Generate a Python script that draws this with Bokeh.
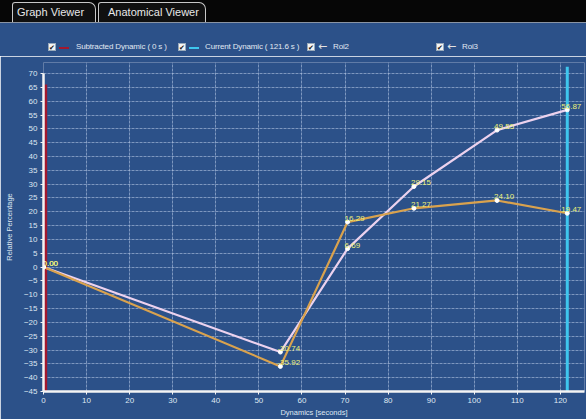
from bokeh.plotting import figure
from bokeh.models import Range1d, FixedTicker, Div, ColumnDataSource
from bokeh.layouts import column
from bokeh.core.properties import value
from bokeh.embed import file_html
from bokeh.resources import INLINE

# ---- data ----
times = [0, 55, 70.6, 86, 105.3, 121.6]
roi2 = [0.00, -35.92, 16.29, 21.27, 24.10, 19.47]
roi3 = [0.00, -30.74, 6.69, 29.15, 49.55, 56.87]
subtracted_t = 0.5
current_t = 121.6
x_ticks = [0, 10, 20, 30, 40, 50, 60, 70, 80, 90, 100, 110, 120]
y_ticks = [-45, -40, -35, -30, -25, -20, -15, -10, -5, 0, 5, 10, 15, 20, 25, 30,
           35, 40, 45, 50, 55, 60, 65, 70]
legend_names = ["Subtracted Dynamic ( 0 s )", "Current Dynamic ( 121.6 s )", "Roi2", "Roi3"]
tab_names = ["Graph Viewer", "Anatomical Viewer"]

BLUE = "#2c5189"
FONT = "Liberation Sans"
W = 586
HEAD_H = 56
FIG_H = 363

# ---- header (tabs + legend) ----
def checkbox(left):
    return (f'<div style="position:absolute;left:{left}px;top:43px;width:8px;height:8px;'
            f'background:#f4f4f4;border:1px solid #9ab;color:#111;font-size:7px;line-height:8px;'
            f'text-align:center;font-family:\'DejaVu Sans\'">&#10004;</div>')

def legtext(left, txt):
    return (f'<div style="position:absolute;left:{left}px;top:42px;color:#e0e8f2;font-size:8px;'
            f'font-family:\'{FONT}\';white-space:nowrap;letter-spacing:-0.15px;line-height:10px">{txt}</div>')

def legline(left, color, w=10):
    return (f'<div style="position:absolute;left:{left}px;top:47px;width:{w}px;height:2px;'
            f'background:{color}"></div>')

def arrow(left):
    return (f'<div style="position:absolute;left:{left}px;top:40px;color:#e2e2e2;font-size:11px;'
            f'font-family:\'DejaVu Sans\';line-height:14px">&#8592;</div>')

def tab(left, width, txt, txt_left):
    return (f'<div style="position:absolute;left:{left}px;top:2px;width:{width}px;height:20px;'
            f'background:#101010;border:1px solid #c8c8c8;border-bottom:none;'
            f'border-radius:3px 7px 0 0"></div>'
            f'<div style="position:absolute;left:{txt_left}px;top:5px;color:#e8e8e8;font-size:11px;'
            f'font-family:\'{FONT}\';white-space:nowrap;line-height:14px">{txt}</div>')

html = (
    f'<div style="position:relative;width:{W}px;height:{HEAD_H}px;background:{BLUE};overflow:hidden">'
    f'<div style="position:absolute;left:0;top:0;width:{W}px;height:22px;background:#060606"></div>'
    f'<div style="position:absolute;left:0;top:22px;width:{W}px;height:1px;background:#8a94a4"></div>'
    + tab(12, 84, tab_names[0], 17)
    + tab(98, 108, tab_names[1], 108)
    + checkbox(48) + legline(59, "#a3182e") + legtext(76, legend_names[0])
    + checkbox(178) + legline(189, "#3ec6ee") + legtext(205, legend_names[1])
    + checkbox(307) + arrow(318) + legtext(333, legend_names[2])
    + checkbox(436) + arrow(447) + legtext(462, legend_names[3])
    + '</div>'
)
header = Div(text=html, width=W, height=HEAD_H, margin=0)

# ---- figure ----
p = figure(width=W, height=FIG_H, output_backend="svg", toolbar_location=None,
           x_range=Range1d(0, 125.6), y_range=Range1d(-45, 74),
           min_border_left=43, min_border_right=2, min_border_top=6, min_border_bottom=27)
p.background_fill_color = BLUE
p.border_fill_color = BLUE
p.outline_line_color = None

p.xaxis.ticker = FixedTicker(ticks=x_ticks)
p.yaxis.ticker = FixedTicker(ticks=y_ticks)
p.yaxis.bounds = (-45, 70)
p.xgrid.ticker = FixedTicker(ticks=x_ticks)
p.ygrid.ticker = FixedTicker(ticks=y_ticks)
p.ygrid.bounds = (0, 125.6)
p.xgrid.bounds = (-45, 70)
for g in (p.xgrid, p.ygrid):
    g.grid_line_color = "#b4c6e2"
    g.grid_line_alpha = 0.6
    g.grid_line_dash = "3 1"
    g.grid_line_width = 1

for ax in (p.xaxis, p.yaxis):
    ax.axis_line_color = "#f4f4f4"
    ax.axis_line_width = 2.5
    ax.major_tick_line_color = "#f4f4f4"
    ax.major_tick_line_width = 1
    ax.major_tick_out = 3
    ax.major_tick_in = 0
    ax.minor_tick_line_color = None
    ax.major_label_text_color = "#dfe7f2"
    ax.major_label_text_font = FONT
    ax.major_label_text_font_size = "8px"
    ax.major_label_standoff = 3
    ax.axis_label_text_color = "#dfe7f2"
    ax.axis_label_text_font = FONT
    ax.axis_label_text_font_size = "7.5px"
    ax.axis_label_text_font_style = "normal"

p.xaxis.axis_label = "Dynamics [seconds]"
p.xaxis.axis_label_standoff = 2
p.yaxis.axis_label = "Relative Percentage"
p.yaxis.axis_label_standoff = 7

# vertical dynamic markers
p.segment(x0=[subtracted_t], y0=[-45], x1=[subtracted_t], y1=[66], line_color="#a3182e", line_width=3)
p.segment(x0=[current_t], y0=[-45], x1=[current_t], y1=[72.5], line_color="#3ec6ee", line_width=3)

offs = [-1, -3, -3, -3, -3, -6]
src2 = ColumnDataSource(dict(x=times, y=roi2, t=[f"{v:.2f}" for v in roi2], o=offs))
src3 = ColumnDataSource(dict(x=times, y=roi3, t=[f"{v:.2f}" for v in roi3], o=offs))

p.line("x", "y", source=src3, line_color="#ecd2ee", line_width=2.2)
p.line("x", "y", source=src2, line_color="#d9a24e", line_width=2.2)
for s in (src2, src3):
    p.scatter("x", "y", source=s, size=4, fill_color="white", line_color="white")
    p.text("x", "y", text="t", source=s, text_color="#eef27a", text_font=value(FONT),
           text_font_size="8px", text_align="left", text_baseline="bottom",
           x_offset="o", y_offset=-1)

layout = column(header, p, spacing=0)
open("out.html", "w").write(file_html(layout, INLINE))
